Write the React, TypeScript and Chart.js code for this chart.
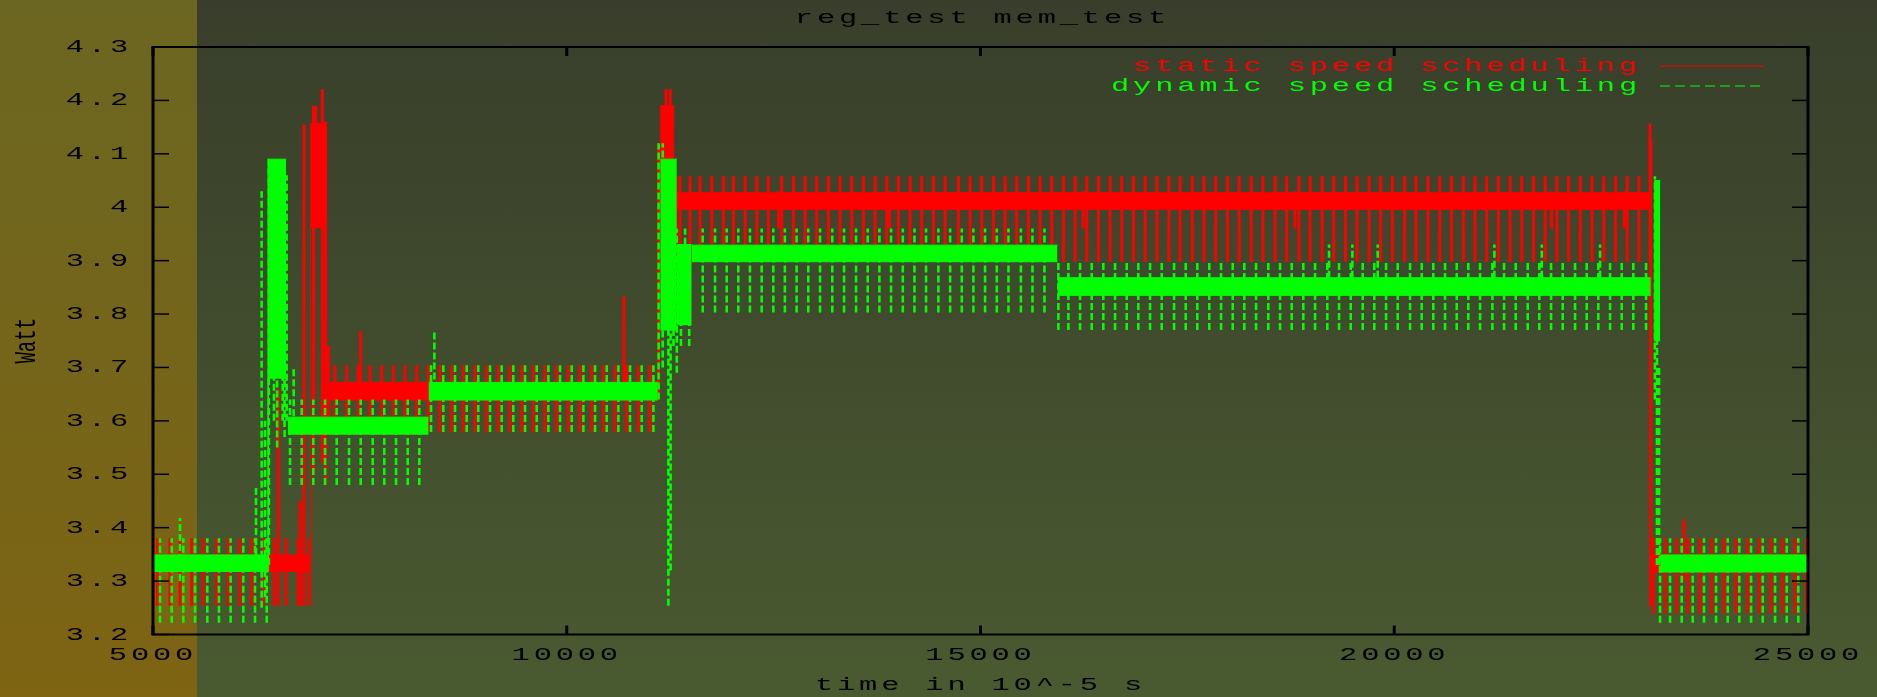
import React, { useEffect, useRef } from 'react';
import { Chart, registerables } from 'chart.js';

Chart.register(...registerables);

// ---------- text / labels ----------
const chartTitle = 'reg_test mem_test';
const xAxisTitle = 'time in 10^-5 s';
const yAxisTitle = 'Watt';
const seriesNames = ['static speed scheduling', 'dynamic speed scheduling'];
const xMin = 5000;
const xMax = 25000;
const xStep = 5000;
const yMin = 3.2;
const yMax = 4.3;
const yStep = 0.1;

// ---------- static speed scheduling (red) ----------
// dense oscillation bands: [xStart, xEnd, low, high]
const staticBands = [
  [5000, 6910, 3.318, 3.349],
  [6900, 7095, 3.962, 4.157],
  [7140, 11110, 3.639, 3.672],
  [11130, 11290, 4.09, 4.19],
  [11290, 23095, 3.996, 4.027],
  [23115, 25000, 3.317, 3.349],
];
// periodic spikes, per level
const staticSpikesA = [5052, 5205, 5326, 5467, 5608, 5770, 5910, 6051, 6193, 6333, 6462, 6607, 6756, 6889]; // 3.254 - 3.38
const staticSpikesB = [7199, 7341, 7481, 7622, 7764, 7904, 8045, 8187, 8327, 8468, 8609, 8750, 8891, 9032, 9173, 9314, 9455, 9596, 9737, 9878, 10019, 10160, 10301, 10442, 10583, 10724, 10865, 11006]; // 3.579 - 3.704
const staticSpikesC = [11369, 11490, 11611, 11752, 11893, 12014, 12156, 12297, 12437, 12598, 12739, 12880, 13021, 13162, 13303, 13444, 13585, 13726, 13867, 14008, 14149, 14290, 14431, 14572, 14733, 14874, 15015, 15156, 15297, 15438, 15579, 15720, 15861, 16002, 16143, 16284, 16425, 16566, 16707, 16848, 16990, 17132, 17277, 17412, 17560, 17700, 17842, 17984, 18125, 18272, 18413, 18560, 18700, 18848, 18983, 19128, 19268, 19410, 19550, 19696, 19836, 19978, 20125, 20262, 20408, 20550, 20692, 20834, 20975, 21117, 21258, 21400, 21541, 21683, 21824, 21966, 22107, 22249, 22390, 22532, 22673, 22815, 22956]; // 3.898 - 4.058
const staticSpikesD = [23131, 23273, 23414, 23554, 23696, 23837, 23986, 24131, 24272, 24412, 24554, 24695, 24844, 24985]; // 3.24 - 3.38
const staticSpikeLevels = [
  [3.254, 3.38],
  [3.579, 3.704],
  [3.898, 4.058],
  [3.24, 3.38],
];
// single spikes: [x, low, high]
const staticExtraSpikes = [
  [6515, 3.254, 3.66], [6777, 3.254, 3.45], [6825, 3.254, 4.155], [6940, 3.5, 4.19],
  [6966, 3.96, 4.19], [7046, 3.52, 4.221], [7085, 3.48, 4.16], [7119, 3.6, 3.74],
  [7510, 3.64, 3.768], [10690, 3.64, 3.833],
  [11110, 3.64, 4.12], [11150, 4.0, 4.19], [11200, 4.09, 4.221], [11250, 4.09, 4.221],
  [11280, 3.898, 4.19], [11320, 3.898, 4.06],
  [12560, 3.96, 4.03], [13900, 3.96, 4.03], [16240, 3.96, 4.03], [18800, 3.96, 4.03],
  [21900, 3.96, 4.03], [22780, 3.96, 4.03],
  [23091, 3.9, 4.157], [23100, 3.254, 4.125], [23500, 3.3, 3.415],
];

// ---------- dynamic speed scheduling (green) ----------
const dynamicBands = [
  [5000, 6400, 3.318, 3.349],
  [6385, 6610, 3.68, 4.09],
  [6630, 8330, 3.575, 3.607],
  [8330, 11100, 3.639, 3.672],
  [11130, 11330, 3.77, 4.09],
  [11330, 11510, 3.78, 3.93],
  [11510, 15930, 3.898, 3.929],
  [15930, 23100, 3.835, 3.868],
  [23140, 23215, 3.75, 4.05],
  [23215, 25000, 3.317, 3.349],
];
const dynamicSpikesA = [5085, 5226, 5366, 5508, 5656, 5797, 5938, 6091, 6233, 6374]; // 3.222 - 3.38
const dynamicSpikesB = [6656, 6797, 6937, 7079, 7220, 7369, 7510, 7655, 7795, 7937, 8078, 8218]; // 3.48 - 3.64
const dynamicSpikesC = [8360, 8508, 8650, 8791, 8931, 9073, 9214, 9354, 9496, 9637, 9778, 9919, 10060, 10201, 10342, 10483, 10624, 10765, 10906, 11047]; // 3.579 - 3.704
const dynamicSpikesD = [11643, 11792, 11933, 12073, 12214, 12356, 12496, 12636, 12778, 12919, 13061, 13209, 13351, 13496, 13637, 13778, 13919, 14061, 14202, 14342, 14491, 14633, 14774, 14914, 15055, 15197, 15338, 15488, 15628, 15773]; // 3.803 - 3.96
const dynamicSpikesE = [15941, 16062, 16203, 16344, 16484, 16626, 16767, 16907, 17049, 17190, 17339, 17480, 17620, 17765, 17907, 18048, 18188, 18330, 18478, 18620, 18761, 18901, 19043, 19191, 19333, 19474, 19619, 19759, 19901, 20042, 20191, 20332, 20472, 20614, 20755, 20895, 21037, 21186, 21327, 21468, 21613, 21753, 21895, 22036, 22185, 22326, 22466, 22608, 22749, 22889, 23043]; // 3.77 - 3.898
const dynamicSpikesF = [23212, 23333, 23474, 23607, 23743, 23889, 24030, 24170, 24312, 24453, 24602, 24743, 24883]; // 3.222 - 3.38
const dynamicSpikeLevels = [
  [3.222, 3.38],
  [3.48, 3.64],
  [3.579, 3.704],
  [3.803, 3.96],
  [3.77, 3.898],
  [3.222, 3.38],
];
const dynamicExtraSpikes = [
  [5326, 3.3, 3.418], [6245, 3.33, 3.48], [6313, 3.25, 4.03], [6354, 3.27, 3.6],
  [6400, 3.33, 4.09], [6462, 3.6, 4.09], [6500, 3.55, 4.06], [6567, 3.6, 3.97],
  [6590, 3.57, 4.0], [6615, 3.6, 4.06], [6700, 3.59, 3.7], [8400, 3.64, 3.768],
  [11110, 3.64, 4.12], [11160, 3.7, 4.12], [11228, 3.254, 4.05], [11255, 3.32, 3.95],
  [11290, 3.74, 4.0], [11330, 3.69, 3.96], [11380, 3.74, 3.93], [11430, 3.78, 3.96],
  [11480, 3.74, 3.93],
  [19212, 3.868, 3.93], [19494, 3.868, 3.93], [19800, 3.868, 3.93], [21210, 3.868, 3.93],
  [21783, 3.868, 3.93], [22487, 3.868, 3.93],
  [23150, 3.64, 4.058], [23175, 3.33, 4.05], [23200, 3.33, 3.7],
];

// ---------- styling ----------
const RED = '#ff0000';
const GREEN = '#00ff00';
const FONT = '"Liberation Mono", "DejaVu Sans Mono", monospace';
const FONT_SIZE = 19;
const TEXT_STRETCH = 1.6;
const LETTER_SPACING = '2.4px';

type Pt = { x: number; y: number | null };

function bandEdge(bands: number[][], idx: number): Pt[] {
  const pts: Pt[] = [];
  bands.forEach((b) => {
    pts.push({ x: b[0], y: b[idx] }, { x: b[1], y: b[idx] }, { x: b[1], y: null });
  });
  return pts;
}

function spikeLine(groups: number[][], levels: number[][], extras: number[][]): Pt[] {
  const all: number[][] = [];
  groups.forEach((xs, i) => xs.forEach((x) => all.push([x, levels[i][0], levels[i][1]])));
  extras.forEach((s) => all.push(s));
  all.sort((a, b) => a[0] - b[0]);
  const pts: Pt[] = [];
  all.forEach(([x, lo, hi]) => {
    pts.push({ x, y: lo }, { x, y: hi }, { x, y: null });
  });
  return pts;
}

const framePlugin = {
  id: 'gnuFrame',
  afterDraw(chart: any) {
    const { ctx, chartArea } = chart;
    const { left, top, right, bottom } = chartArea;
    const xs = chart.scales.x;
    const ys = chart.scales.y;
    const seg = (x1: number, y1: number, x2: number, y2: number) => {
      ctx.beginPath();
      ctx.moveTo(x1, y1);
      ctx.lineTo(x2, y2);
      ctx.stroke();
    };
    ctx.save();
    ctx.strokeStyle = '#000';
    ctx.lineWidth = 1.5;
    ys.ticks.forEach((t: any) => {
      const p = ys.getPixelForValue(t.value);
      seg(left, p, left + 16, p);
      seg(right - 16, p, right, p);
    });
    ctx.lineWidth = 3;
    xs.ticks.forEach((t: any) => {
      const p = xs.getPixelForValue(t.value);
      seg(p, bottom - 9, p, bottom);
      seg(p, top, p, top + 9);
    });
    ctx.lineWidth = 2;
    seg(left - 1.5, top, right + 1.5, top);
    seg(left - 1.5, bottom, right + 1.5, bottom);
    ctx.lineWidth = 3;
    seg(left, top, left, bottom);
    seg(right, top, right, bottom);
    ctx.restore();
  },
};

const textPlugin = {
  id: 'gnuText',
  afterDraw(chart: any) {
    const { ctx, chartArea } = chart;
    const { left, right, top } = chartArea;
    const colors = [RED, GREEN];
    const dashes = [[], [10, 5]];
    ctx.save();
    ctx.font = `${FONT_SIZE}px ${FONT}`;
    ctx.textBaseline = 'middle';
    // title, centred over the plot area
    ctx.textAlign = 'center';
    ctx.fillStyle = '#000';
    ctx.fillText(chartTitle, (left + right) / 2 + 2, 18);
    // legend (gnuplot style: text then sample)
    ctx.textAlign = 'right';
    seriesNames.forEach((name, i) => {
      const y = top + 19 + i * 20;
      ctx.fillStyle = colors[i];
      ctx.fillText(name, right - 167, y);
      ctx.strokeStyle = colors[i];
      ctx.lineWidth = 1;
      ctx.setLineDash(dashes[i]);
      ctx.beginPath();
      ctx.moveTo(right - 148, y);
      ctx.lineTo(right - 44, y);
      ctx.stroke();
    });
    ctx.restore();
  },
};

function patchText(ctx: any) {
  const orig = ctx.fillText;
  ctx.fillText = function (text: string, x: number, y: number) {
    const m = this.getTransform();
    const ax = m.a * x + m.c * y + m.e;
    this.save();
    this.setTransform(TEXT_STRETCH, 0, 0, 1, ax - TEXT_STRETCH * ax, 0);
    this.transform(m.a, m.b, m.c, m.d, m.e, m.f);
    this.letterSpacing = Math.abs(m.b) < 1e-6 ? LETTER_SPACING : '0px';
    orig.call(this, text, x, y);
    this.restore();
  };
}

export default function App() {
  const ref = useRef<HTMLCanvasElement | null>(null);

  useEffect(() => {
    const canvas = ref.current;
    if (!canvas) return;
    const ctx = canvas.getContext('2d');
    patchText(ctx);
    const font = { family: FONT, size: FONT_SIZE, weight: 'normal' as const, lineHeight: 1.2 };

    const chart = new Chart(canvas, {
      type: 'line',
      data: {
        datasets: [
          {
            label: seriesNames[1] + ' (band top)',
            data: bandEdge(dynamicBands, 3),
            borderColor: GREEN,
            borderWidth: 1,
            pointRadius: 0,
            fill: false,
            order: 1,
          },
          {
            label: seriesNames[1] + ' (band bottom)',
            data: bandEdge(dynamicBands, 2),
            borderColor: GREEN,
            backgroundColor: GREEN,
            borderWidth: 1,
            pointRadius: 0,
            fill: '-1',
            order: 1,
          },
          {
            label: seriesNames[1],
            data: spikeLine(
              [dynamicSpikesA, dynamicSpikesB, dynamicSpikesC, dynamicSpikesD, dynamicSpikesE, dynamicSpikesF],
              dynamicSpikeLevels,
              dynamicExtraSpikes
            ),
            borderColor: GREEN,
            borderWidth: 2.6,
            borderDash: [7, 3],
            pointRadius: 0,
            fill: false,
            order: 0,
          },
          {
            label: seriesNames[0] + ' (band top)',
            data: bandEdge(staticBands, 3),
            borderColor: RED,
            borderWidth: 1,
            pointRadius: 0,
            fill: false,
            order: 3,
          },
          {
            label: seriesNames[0] + ' (band bottom)',
            data: bandEdge(staticBands, 2),
            borderColor: RED,
            backgroundColor: RED,
            borderWidth: 1,
            pointRadius: 0,
            fill: '-1',
            order: 3,
          },
          {
            label: seriesNames[0],
            data: spikeLine(
              [staticSpikesA, staticSpikesB, staticSpikesC, staticSpikesD],
              staticSpikeLevels,
              staticExtraSpikes
            ),
            borderColor: RED,
            borderWidth: 3,
            pointRadius: 0,
            fill: false,
            order: 2,
          },
        ],
      },
      options: {
        animation: false,
        responsive: false,
        events: [],
        layout: { padding: { left: 0, right: 69, top: 47, bottom: 0 } },
        plugins: {
          legend: { display: false },
          tooltip: { enabled: false },
          title: { display: false },
        },
        scales: {
          x: {
            type: 'linear',
            min: xMin,
            max: xMax,
            grid: { display: false, drawTicks: false },
            border: { display: false },
            ticks: {
              stepSize: xStep,
              color: '#000',
              font,
              padding: 9,
              maxRotation: 0,
              autoSkip: false,
              callback: (v: any) => String(v),
            },
            title: {
              display: true,
              text: xAxisTitle,
              color: '#000',
              font,
              padding: { top: 0, bottom: 0.6 },
            },
            afterFit: (s: any) => {
              s.height = 62.5;
            },
          },
          y: {
            type: 'linear',
            min: yMin,
            max: yMax,
            grid: { display: false, drawTicks: false },
            border: { display: false },
            ticks: {
              stepSize: yStep,
              color: '#000',
              font,
              padding: 21,
              callback: (v: any) => String(Math.round(Number(v) * 10) / 10),
            },
            title: {
              display: true,
              text: yAxisTitle,
              color: '#000',
              font,
              padding: { top: 15.6, bottom: 0 },
            },
            afterFit: (s: any) => {
              s.width = 153;
            },
          },
        },
      },
      plugins: [framePlugin, textPlugin],
    } as any);

    return () => chart.destroy();
  }, []);

  return (
    <div
      style={{
        position: 'fixed',
        left: 0,
        top: 0,
        width: 1877,
        height: 697,
        background:
          'linear-gradient(to bottom, #6b6621, #7e6413) 0 0 / 197px 100% no-repeat, linear-gradient(to bottom, #383e2b, #4a5a30)',
      }}
    >
      <canvas ref={ref} width={1877} height={697} style={{ display: 'block', width: 1877, height: 697 }} />
    </div>
  );
}
